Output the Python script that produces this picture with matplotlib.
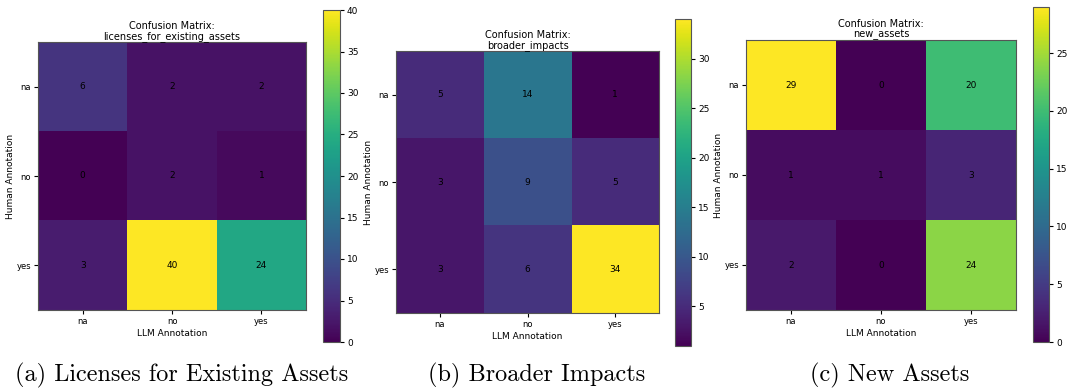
import numpy as np
import matplotlib
matplotlib.use("Agg")
import matplotlib.pyplot as plt

labels = ["na", "no", "yes"]

cm_licenses = [[6, 2, 2],
               [0, 2, 1],
               [3, 40, 24]]
cm_impacts = [[5, 14, 1],
              [3, 9, 5],
              [3, 6, 34]]
cm_new = [[29, 0, 20],
          [1, 1, 3],
          [2, 0, 24]]

titles = ["licenses_for_existing_assets", "broader_impacts", "new_assets"]
captions = ["(a) Licenses for Existing Assets", "(b) Broader Impacts", "(c) New Assets"]

W, H = 1070, 390
fig = plt.figure(figsize=(W / 100, H / 100), dpi=100)


def px(x0, y0, x1, y1):
    # pixel box -> figure fraction
    return [x0 / W, 1 - y1 / H, (x1 - x0) / W, (y1 - y0) / H]


# (heatmap box, colorbar box, caption center x)
boxes = [
    ((38, 42, 306, 310), (323, 10, 340, 342), 182),
    ((396, 51, 659, 313), (675, 19, 691, 346), 537),
    ((746, 40, 1016, 310), (1033, 7, 1049, 342), 890),
]

for cm, title, cap, (hb, cb, cx) in zip([cm_licenses, cm_impacts, cm_new], titles, captions, boxes):
    cm = np.array(cm)
    ax = fig.add_axes(px(*hb))
    im = ax.imshow(cm, cmap="viridis", aspect="auto")
    for i in range(3):
        for j in range(3):
            ax.text(j, i, str(cm[i, j]), ha="center", va="center", color="black", fontsize=6.5)
    ax.set_xticks(range(3))
    ax.set_yticks(range(3))
    ax.set_xticklabels(labels)
    ax.set_yticklabels(labels)
    ax.tick_params(labelsize=6, length=3, pad=2)
    ax.set_xlabel("LLM Annotation", fontsize=6.5, labelpad=2)
    ax.set_ylabel("Human Annotation", fontsize=6.5, labelpad=1)
    ax.set_title("Confusion Matrix:\n" + title, fontsize=7, pad=2, linespacing=1.05)
    for s in ax.spines.values():
        s.set_color("#555555")

    cax = fig.add_axes(px(*cb))
    cbar = fig.colorbar(im, cax=cax)
    cbar.ax.tick_params(labelsize=6.5, length=3, pad=2)
    cbar.outline.set_edgecolor("#555555")

    fig.text(cx / W, 1 - 375 / H, cap, ha="center", va="center",
             fontsize=17.5, family="cmr10")

fig.savefig("out.png", dpi=100)
